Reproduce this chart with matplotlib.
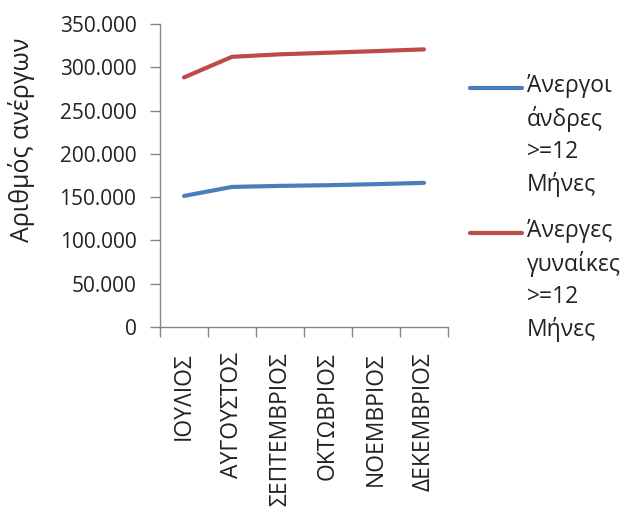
import matplotlib.pyplot as plt
from matplotlib.lines import Line2D
from matplotlib.ticker import FuncFormatter, FixedLocator

plt.rcParams['font.family'] = ['Open Sans', 'DejaVu Sans']

months = ['ΙΟΥΛΙΟΣ', 'ΑΥΓΟΥΣΤΟΣ', 'ΣΕΠΤΕΜΒΡΙΟΣ', 'ΟΚΤΩΒΡΙΟΣ', 'ΝΟΕΜΒΡΙΟΣ', 'ΔΕΚΕΜΒΡΙΟΣ']
men = [151400, 161800, 163000, 163800, 165000, 166500]
women = [288300, 312100, 315000, 316800, 318700, 320700]
label_men = 'Άνεργοι\nάνδρες\n>=12\nΜήνες'
label_women = 'Άνεργες\nγυναίκες\n>=12\nΜήνες'
blue = '#4A7EBB'
red = '#BE4B48'

W, H = 627, 507
fig = plt.figure(figsize=(W / 100, H / 100), dpi=100)
ax = fig.add_axes([160 / W, 1 - 327 / H, 288 / W, 303 / H])

x = range(len(months))
ax.plot(x, men, color=blue, lw=3, solid_capstyle='round')
ax.plot(x, women, color=red, lw=3, solid_capstyle='round')

ax.set_xlim(-0.5, len(months) - 0.5)
ax.set_ylim(0, 350000)
ax.set_yticks(range(0, 350001, 50000))
ax.yaxis.set_major_formatter(FuncFormatter(lambda v, p: f'{int(v):,}'.replace(',', '.')))

ax.set_xticks(list(x))
ax.set_xticklabels(months, rotation=90, va='top', ha='center')
ax.xaxis.set_minor_locator(FixedLocator([i - 0.5 for i in range(len(months) + 1)]))
ax.tick_params(axis='x', which='major', length=0, pad=18, labelsize=16.5, labelcolor='#222222')
ax.tick_params(axis='x', which='minor', length=7, color='#868686', width=1)
ax.tick_params(axis='y', length=7, color='#868686', width=1, labelsize=15, pad=10, labelcolor='#222222')

for s in ['top', 'right']:
    ax.spines[s].set_visible(False)
for s in ['left', 'bottom']:
    ax.spines[s].set_color('#868686')
    ax.spines[s].set_linewidth(1)

ax.set_ylabel('Αριθμός ανέργων', fontsize=18, color='#222222', va='center')
ax.yaxis.set_label_coords(-0.48, 0.617)

# legend drawn by hand so the line sits on the first text row, like Excel
for label, color, y0 in [(label_men, blue, 88), (label_women, red, 233)]:
    fig.add_artist(Line2D([470 / W, 522 / W], [1 - y0 / H, 1 - y0 / H], color=color, lw=3,
                          solid_capstyle='round'))
    fig.text(527 / W, 1 - (y0 - 14) / H, label, fontsize=16.5, va='top', ha='left',
             linespacing=1.42, color='#222222')

fig.savefig('out.png', dpi=100)
